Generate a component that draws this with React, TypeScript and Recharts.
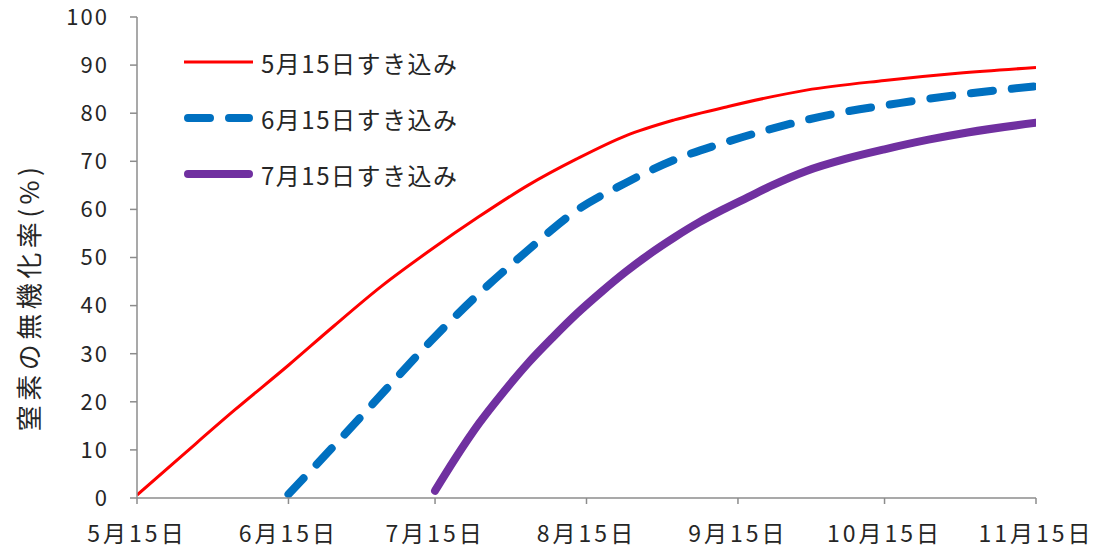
import { LineChart, Line, XAxis, YAxis, Legend } from "recharts"

// 横軸: 5月15日からの日数
const tickDays = [0, 31, 61, 92, 123, 153, 184]
const tickLabels = ["5月15日", "6月15日", "7月15日", "8月15日", "9月15日", "10月15日", "11月15日"]
const yTicks = [0, 10, 20, 30, 40, 50, 60, 70, 80, 90, 100]

// 5月15日すき込み
const mayDays = [0, 10, 20, 31, 40, 50, 60, 70, 80, 90, 100, 110, 121, 137, 153, 168, 184]
const mayValues = [0.6, 9.5, 18.3, 27.6, 35.5, 44, 51.5, 58.5, 65, 70.5, 75.3, 78.6, 81.4, 84.8, 86.8, 88.3, 89.5]

// 6月15日すき込み
const juneDays = [31, 40, 50, 60, 70, 80, 90, 100, 110, 120, 130, 140, 156, 172, 184]
const juneValues = [0.8, 10.5, 21.5, 32.5, 42.5, 51.5, 59.8, 65.5, 70.3, 73.8, 76.8, 79.3, 82.1, 84.3, 85.6]

// 7月15日すき込み
const julyDays = [61, 65, 70, 75, 80, 85, 90, 95, 100, 105, 110, 115, 120, 125, 130, 137, 145, 153, 162, 170, 184]
const julyValues = [1.5, 8, 15.5, 22, 28, 33.3, 38.3, 42.8, 47, 50.8, 54.2, 57.3, 60, 62.5, 65, 68, 70.5, 72.5, 74.5, 76, 78]

const seriesNames = ["5月15日すき込み", "6月15日すき込み", "7月15日すき込み"]

const FONT = "'Noto Sans CJK JP', sans-serif"
const TEXT = "#262626"
const AXIS = "#8c8c8c"

const toPoints = (days: number[], values: number[]) => days.map((d, i) => ({ d, v: values[i] }))

const mayData = toPoints(mayDays, mayValues)
const juneData = toPoints(juneDays, juneValues)
const julyData = toPoints(julyDays, julyValues)

const labelFor = (d: number) => tickLabels[tickDays.indexOf(d)] ?? ""

// 凡例 (グラフ内左上)
function renderLegend() {
    const swatches = [
        <line key="a" x1={4} x2={73} y1={6} y2={6} stroke="#ff0000" strokeWidth={3} />,
        <line key="b" x1={8} x2={69} y1={6} y2={6} stroke="#0070c0" strokeWidth={8} strokeLinecap="round" strokeDasharray="22 19" />,
        <line key="c" x1={8} x2={69} y1={6} y2={6} stroke="#7030a0" strokeWidth={8} strokeLinecap="round" />,
    ]
    return (
        <div style={{ fontFamily: FONT }}>
            {seriesNames.map((name, i) => (
                <div key={name} style={{ height: 56, display: "flex", alignItems: "center" }}>
                    <svg width={76} height={12} style={{ marginRight: 5 }}>
                        {swatches[i]}
                    </svg>
                    <span style={{ fontSize: 24, letterSpacing: 1.5, color: TEXT }}>{name}</span>
                </div>
            ))}
        </div>
    )
}

export default function App() {
    return (
        <div style={{ position: "absolute", left: 0, top: 0, background: "#fff" }}>
            <LineChart width={1095} height={556} margin={{ top: 17, right: 59, bottom: 18, left: 0 }}>
                <XAxis
                    dataKey="d"
                    type="number"
                    domain={[0, 184]}
                    ticks={tickDays}
                    tickFormatter={labelFor}
                    interval={0}
                    height={40}
                    stroke={AXIS}
                    strokeWidth={1.5}
                    tickSize={6}
                    tickMargin={22}
                    tick={{ fill: TEXT, fontSize: 23, fontFamily: FONT, letterSpacing: 3 }}
                    allowDataOverflow
                />
                <YAxis
                    type="number"
                    domain={[0, 100]}
                    ticks={yTicks}
                    interval={0}
                    width={137}
                    stroke={AXIS}
                    strokeWidth={1.5}
                    tickSize={7}
                    tickMargin={21}
                    tick={{ fill: TEXT, fontSize: 22, fontFamily: FONT, letterSpacing: 2 }}
                    label={{
                        content: () => (
                            <text
                                x={27}
                                y={297}
                                transform="rotate(-90 27 297)"
                                textAnchor="middle"
                                dominantBaseline="central"
                                fill={TEXT}
                                fontSize={26}
                                fontFamily={FONT}
                                letterSpacing={4.5}
                            >
                                窒素の無機化率(%)
                            </text>
                        ),
                    }}
                />
                <Legend
                    layout="vertical"
                    align="center"
                    verticalAlign="middle"
                    wrapperStyle={{ left: 180, top: 34, width: 320 }}
                    content={renderLegend}
                />
                <Line
                    data={mayData}
                    dataKey="v"
                    name={seriesNames[0]}
                    type="monotone"
                    stroke="#ff0000"
                    strokeWidth={3}
                    dot={false}
                    isAnimationActive={false}
                />
                <Line
                    data={juneData}
                    dataKey="v"
                    name={seriesNames[1]}
                    type="monotone"
                    stroke="#0070c0"
                    strokeWidth={8}
                    strokeLinecap="round"
                    strokeDasharray="22 19"
                    dot={false}
                    isAnimationActive={false}
                />
                <Line
                    data={julyData}
                    dataKey="v"
                    name={seriesNames[2]}
                    type="monotone"
                    stroke="#7030a0"
                    strokeWidth={8}
                    strokeLinecap="round"
                    dot={false}
                    isAnimationActive={false}
                />
            </LineChart>
        </div>
    )
}
